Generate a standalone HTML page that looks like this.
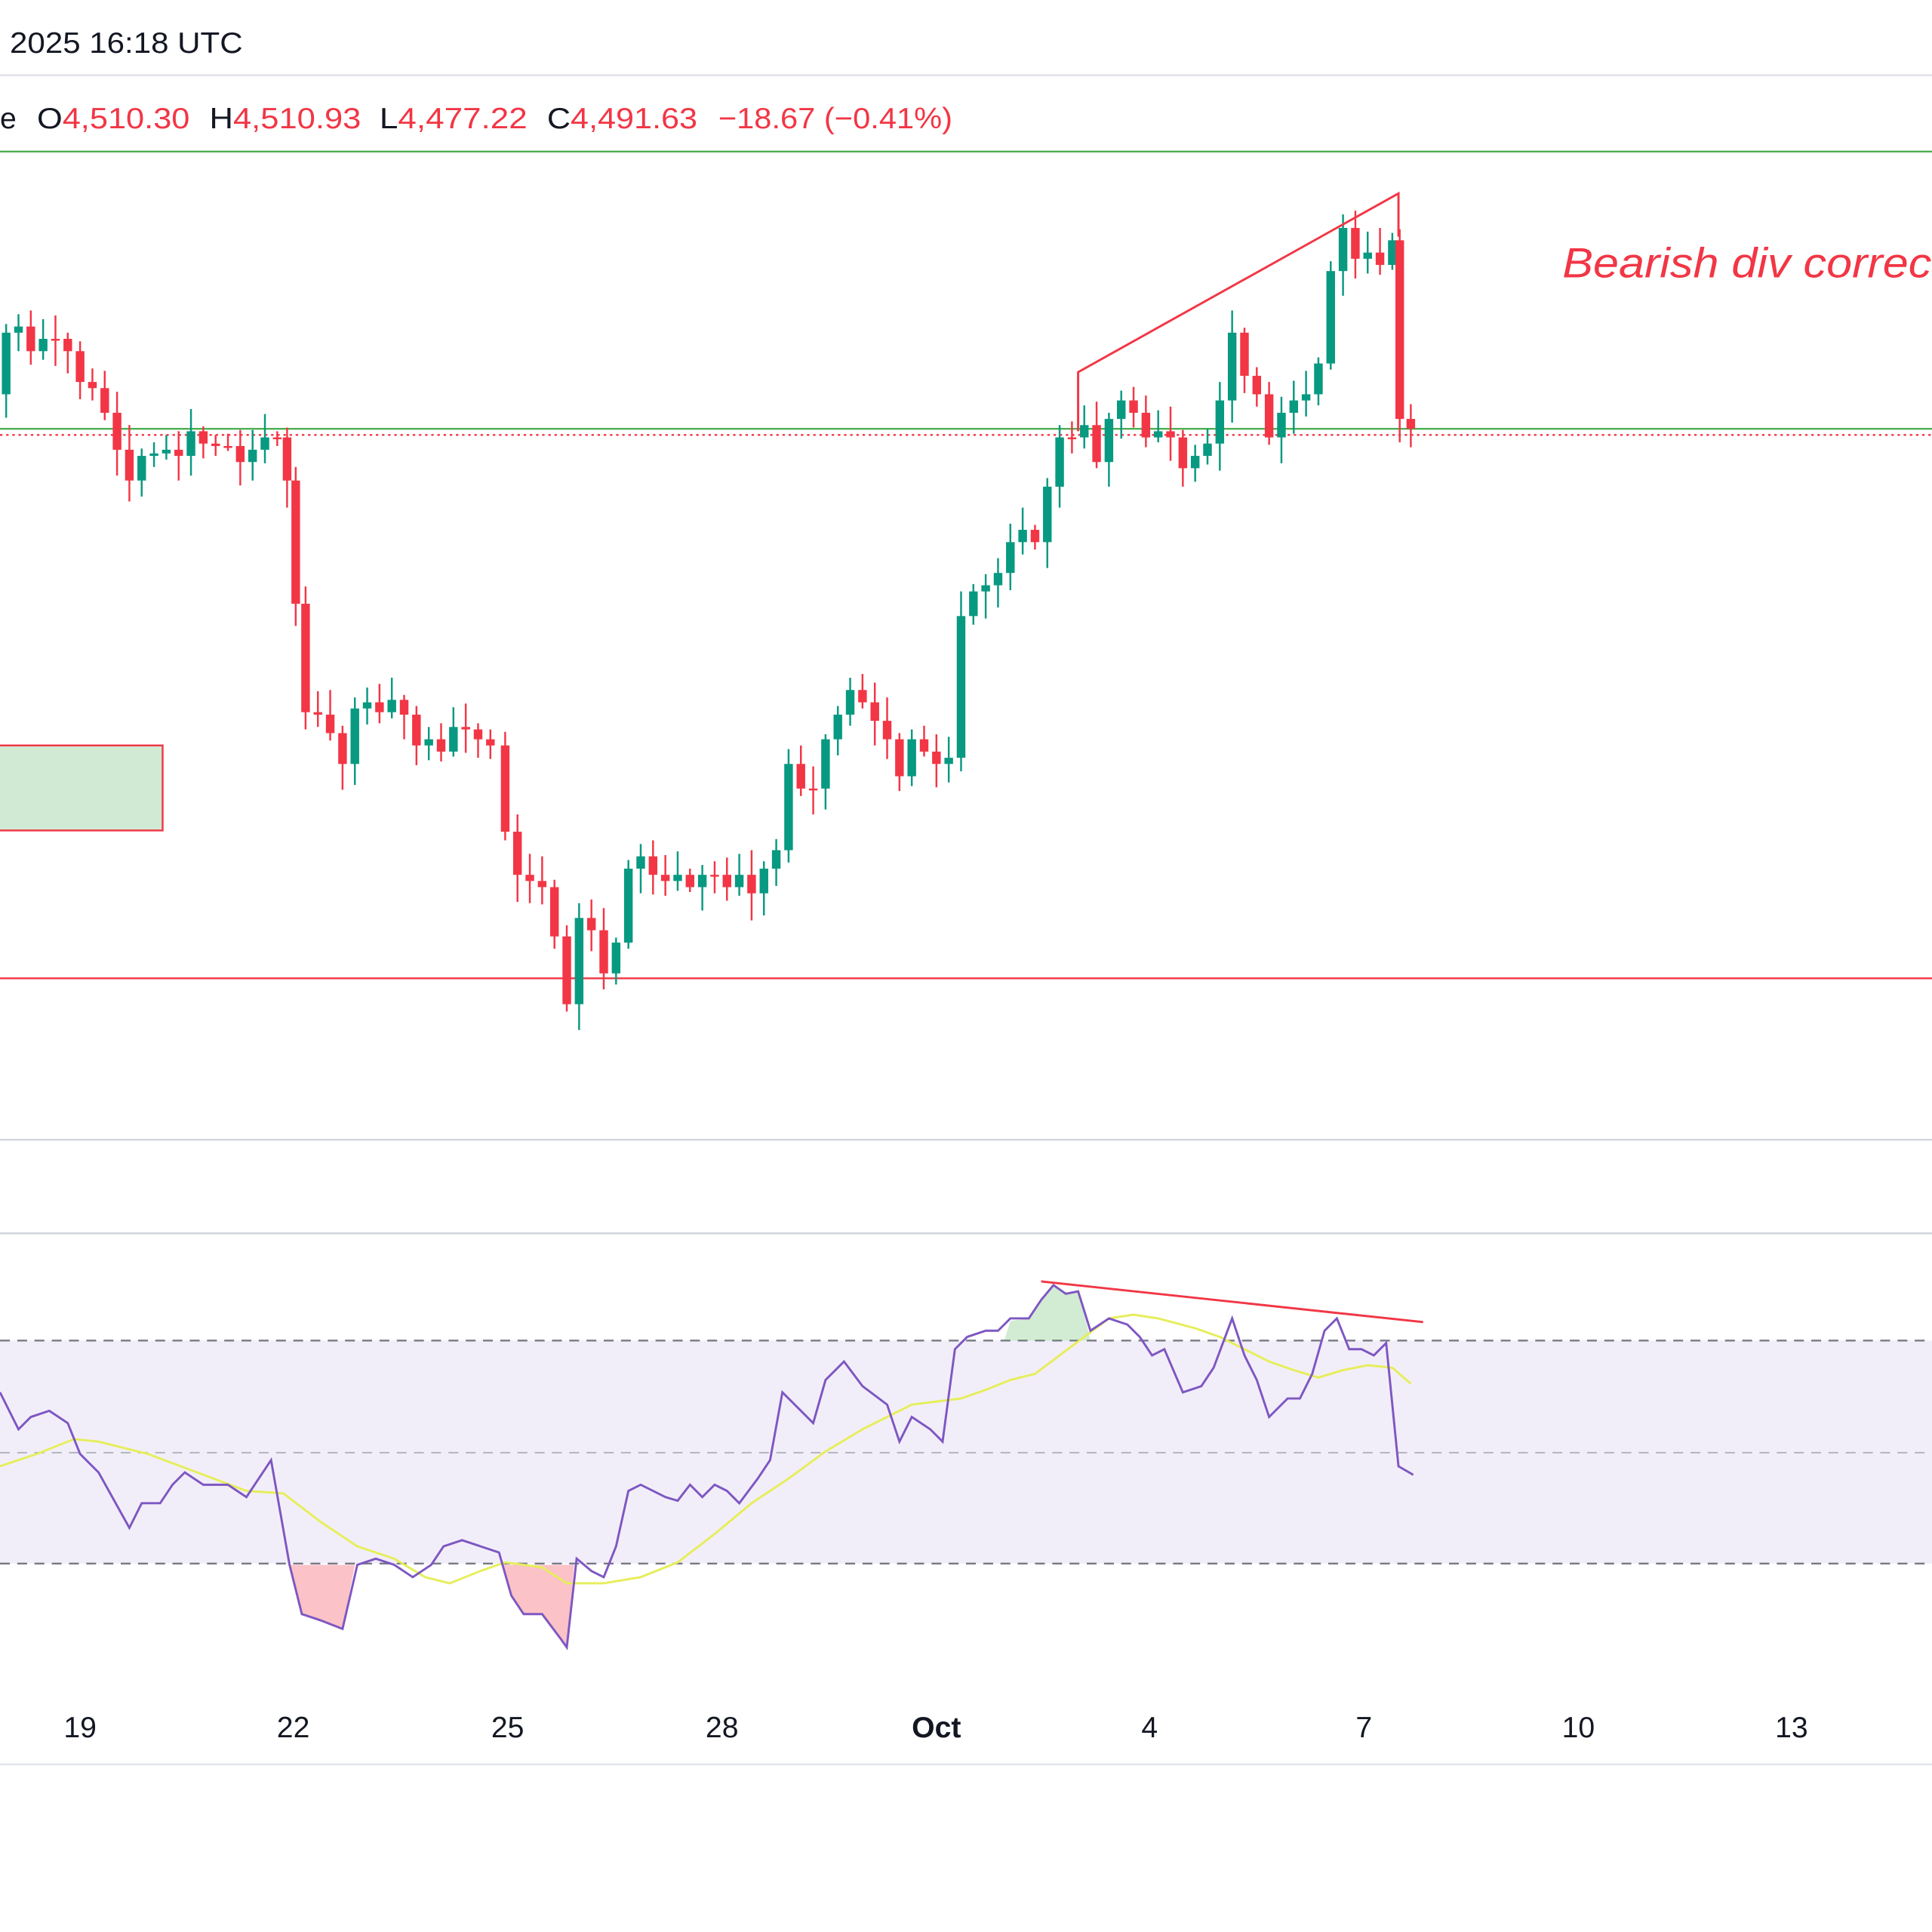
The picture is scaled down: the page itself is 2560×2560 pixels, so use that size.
<!DOCTYPE html>
<html><head><meta charset="utf-8">
<style>
html,body{margin:0;padding:0;background:#fff;}
svg{display:block;}
text{font-family:"Liberation Sans",sans-serif;}
</style></head>
<body>
<svg id="c" width="2560" height="2560" viewBox="0 0 1568 1568" xmlns="http://www.w3.org/2000/svg">
<rect width="1568" height="1568" fill="#fff"/>
<text x="8" y="43" font-size="24" fill="#131722" textLength="189" lengthAdjust="spacingAndGlyphs">2025 16:18 UTC</text>
<line x1="0" y1="61" x2="1568" y2="61" stroke="#e0e3eb" stroke-width="1.5"/>
<g font-size="24" fill="#131722">
<text x="0" y="104">e</text>
<text x="30" y="104" textLength="124" lengthAdjust="spacingAndGlyphs">O<tspan fill="#f23645">4,510.30</tspan></text>
<text x="170" y="104" textLength="123" lengthAdjust="spacingAndGlyphs">H<tspan fill="#f23645">4,510.93</tspan></text>
<text x="308" y="104" textLength="120" lengthAdjust="spacingAndGlyphs">L<tspan fill="#f23645">4,477.22</tspan></text>
<text x="444" y="104" textLength="122" lengthAdjust="spacingAndGlyphs">C<tspan fill="#f23645">4,491.63</tspan></text>
<text x="583" y="104" fill="#f23645" textLength="190" lengthAdjust="spacingAndGlyphs">−18.67 (−0.41%)</text>
</g>
<line x1="0" y1="123" x2="1568" y2="123" stroke="#4caf50" stroke-width="1.5"/>
<line x1="0" y1="348" x2="1568" y2="348" stroke="#4caf50" stroke-width="1.5"/>
<line x1="0" y1="353" x2="1568" y2="353" stroke="#f23645" stroke-width="1.5" stroke-dasharray="2,3"/>
<line x1="0" y1="794" x2="1568" y2="794" stroke="#f23645" stroke-width="1.5"/>
<rect x="-2" y="605" width="134" height="69" fill="#d1ead3" stroke="#f23645" stroke-width="1.5"/>
<text x="1268" y="225" font-size="34" font-style="italic" fill="#f23645" textLength="310" lengthAdjust="spacingAndGlyphs">Bearish div correct</text>
<g id="candles"></g>
<polyline points="875,350 875,302 1135,157 1135,192" fill="none" stroke="#f23645" stroke-width="1.8"/>
<line x1="0" y1="925" x2="1568" y2="925" stroke="#d1d4dc" stroke-width="1.5"/>
<line x1="0" y1="1001" x2="1568" y2="1001" stroke="#d1d4dc" stroke-width="1.5"/>
<rect x="0" y="1088" width="1568" height="181" fill="#7e57c2" fill-opacity="0.1"/>
<line x1="0" y1="1088" x2="1568" y2="1088" stroke="#787b86" stroke-width="1.5" stroke-dasharray="8,6"/>
<line x1="0" y1="1179" x2="1568" y2="1179" stroke="#b2b5be" stroke-width="1.2" stroke-dasharray="8,6"/>
<line x1="0" y1="1269" x2="1568" y2="1269" stroke="#787b86" stroke-width="1.5" stroke-dasharray="8,6"/>
<polygon points="235,1270 245,1310 260,1315 278,1322 288,1270" fill="#f23645" fill-opacity="0.3"/>
<polygon points="407,1270 415,1295 425,1310 440,1310 455,1330 460,1337 466,1270" fill="#f23645" fill-opacity="0.3"/>
<polygon points="815,1088 820,1072 835,1070 845,1055 855,1043 865,1050 875,1048 882,1075 885,1088" fill="#4caf50" fill-opacity="0.25"/>
<polyline fill="none" stroke="#e6ee5a" stroke-width="1.8" points="0,1190 30,1180 60,1168 80,1170 120,1180 160,1195 200,1210 230,1212 260,1235 290,1255 320,1265 345,1280 365,1285 390,1275 410,1268 440,1272 460,1285 490,1285 520,1280 550,1268 580,1245 610,1220 640,1200 670,1178 700,1160 740,1140 780,1135 800,1128 820,1120 840,1115 860,1100 880,1085 900,1070 920,1067 940,1070 970,1078 990,1085 1010,1095 1030,1105 1050,1112 1070,1118 1090,1112 1110,1108 1130,1110 1145,1123"/>
<polyline fill="none" stroke="#7e57c2" stroke-width="1.8" points="0,1130 15,1160 25,1150 40,1145 55,1155 65,1180 80,1195 105,1240 115,1220 130,1220 140,1205 150,1195 165,1205 185,1205 200,1215 210,1200 220,1185 235,1270 245,1310 260,1315 278,1322 290,1270 305,1265 320,1270 335,1280 350,1270 360,1255 375,1250 390,1255 405,1260 415,1295 425,1310 440,1310 455,1330 460,1337 468,1265 480,1275 490,1280 500,1255 510,1210 520,1205 540,1215 550,1218 560,1205 570,1215 580,1205 590,1210 600,1220 615,1200 625,1185 635,1130 645,1140 660,1155 670,1120 685,1105 700,1125 720,1140 730,1170 740,1150 755,1160 765,1170 775,1095 785,1085 800,1080 810,1080 820,1070 835,1070 845,1055 855,1043 865,1050 875,1048 885,1080 900,1070 915,1075 925,1085 935,1100 945,1095 960,1130 975,1125 985,1110 1000,1070 1010,1100 1020,1120 1030,1150 1045,1135 1055,1135 1065,1115 1075,1080 1085,1070 1095,1095 1105,1095 1115,1100 1125,1090 1135,1190 1147,1197"/>
<line x1="845" y1="1040" x2="1155" y2="1073" stroke="#f23645" stroke-width="1.8"/>
<g font-size="24" fill="#131722" text-anchor="middle">
<text x="65" y="1410">19</text><text x="238" y="1410">22</text><text x="412" y="1410">25</text><text x="586" y="1410">28</text>
<text x="760" y="1410" font-weight="bold">Oct</text><text x="933" y="1410">4</text><text x="1107" y="1410">7</text><text x="1281" y="1410">10</text><text x="1454" y="1410">13</text>
</g>
<line x1="0" y1="1432" x2="1568" y2="1432" stroke="#e0e3eb" stroke-width="1.5"/>
</svg>
<script>
var c=[[0,320],[5,270],[15,265],[25,285],[35,275],[45,275],[55,285],[65,310],[75,315],[85,335],[95,365],[105,390],[115,370],[125,368],[135,365],[145,370],[155,350],[165,360],[175,362],[185,362],[195,375],[205,365],[215,355],[225,355],[233,390],[240,490],[248,578],[258,580],[268,595],[278,620],[288,575],[298,570],[308,578],[318,568],[328,580],[338,605],[348,600],[358,610],[368,590],[378,592],[388,600],[398,605],[410,675],[420,710],[430,715],[440,720],[450,760],[460,815],[470,745],[480,755],[490,790],[500,765],[510,705],[520,695],[530,710],[540,715],[550,710],[560,720],[570,710],[580,710],[590,720],[600,710],[610,725],[620,705],[630,690],[640,620],[650,640],[660,640],[670,600],[680,580],[690,560],[700,570],[710,585],[720,600],[730,630],[740,600],[750,610],[760,620],[770,615],[780,500],[790,480],[800,475],[810,465],[820,440],[830,430],[840,440],[850,395],[860,355],[870,355],[880,345],[890,375],[900,340],[910,325],[920,335],[930,355],[940,350],[950,355],[960,380],[970,370],[980,360],[990,325],[1000,270],[1010,305],[1020,320],[1030,355],[1040,335],[1050,325],[1060,320],[1070,295],[1080,220],[1090,185],[1100,210],[1110,205],[1120,215],[1130,195],[1136,340],[1145,348]];
var s='';
for(var i=1;i<c.length;i++){var x=c[i][0],o=c[i-1][1],cl=c[i][1];var up=cl<o;var col=up?'#089981':'#f23645';
var t=Math.min(o,cl),b=Math.max(o,cl);var w1=4+((i*37)%17),w2=4+((i*53)%19);
s+='<line x1="'+x+'" y1="'+(t-w1)+'" x2="'+x+'" y2="'+(b+w2)+'" stroke="'+col+'" stroke-width="1.5"/>';
s+='<rect x="'+(x-3.5)+'" y="'+t+'" width="7" height="'+Math.max(1.5,b-t)+'" fill="'+col+'"/>';}
document.getElementById('candles').innerHTML=s;
</script>
</body></html>
